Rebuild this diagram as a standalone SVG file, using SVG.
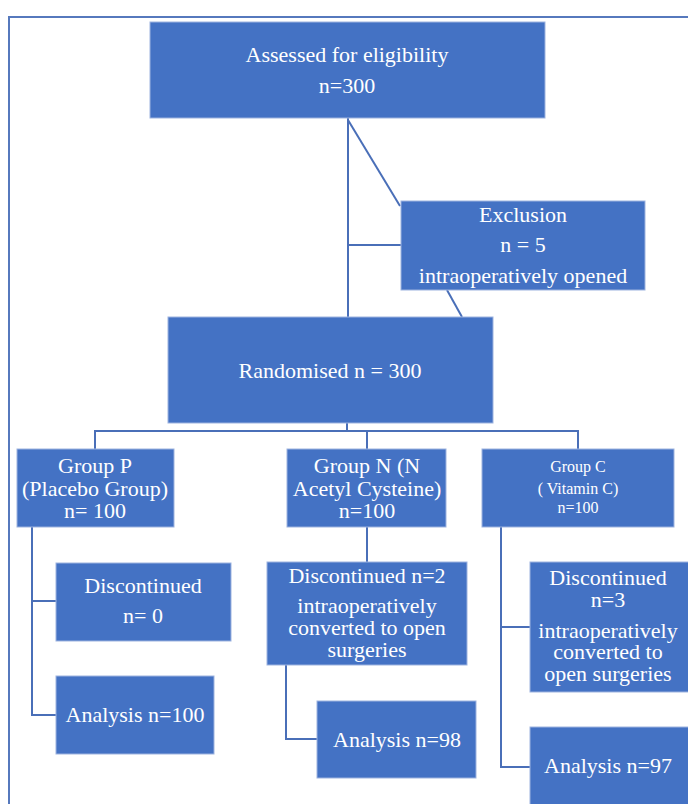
<svg xmlns="http://www.w3.org/2000/svg" width="688" height="804" viewBox="0 0 688 804">
<style>
.box{fill:#4472C4;stroke:#9db3df;stroke-width:1}
.t{font-family:"Liberation Serif","Times New Roman",serif;font-size:22px;fill:#ffffff;text-anchor:middle}
.s{font-size:16px}
.c{fill:none;stroke:#4a6fb8;stroke-width:2}
.frame{fill:none;stroke:#5679bd;stroke-width:2}
</style>
<rect width="688" height="804" fill="#ffffff"/>
<path class="frame" d="M9,804 V17 H688"/>
<g id="connectors">
<path class="c" d="M348,118 V317"/>
<path class="c" d="M348,120 L400,206"/>
<path class="c" d="M348,245 H401"/>
<path class="c" d="M447,290 L462,317"/>
<path class="c" d="M347,423 V431 M95,449 V431 H578 V449 M367,431 V449"/>
<path class="c" d="M32,527 V715 H56 M32,601 H56"/>
<path class="c" d="M367,527 V562"/>
<path class="c" d="M286,665 V739 H317"/>
<path class="c" d="M501,527 V767 H530 M501,627 H530"/>
</g>
<g id="assessed">
<rect class="box" x="150" y="22" width="395" height="96"/>
<text class="t" x="347" y="62">Assessed for eligibility</text>
<text class="t" x="347" y="93">n=300</text>
</g>
<g id="exclusion">
<rect class="box" x="401" y="201" width="244" height="89"/>
<text class="t" x="523" y="222">Exclusion</text>
<text class="t" x="523" y="252">n = 5</text>
<text class="t" x="523" y="283">intraoperatively opened</text>
</g>
<g id="randomised">
<rect class="box" x="168" y="317" width="325" height="106"/>
<text class="t" x="330" y="378">Randomised n = 300</text>
</g>
<g id="groupP">
<rect class="box" x="17" y="449" width="157" height="78"/>
<text class="t" x="95" y="473">Group P</text>
<text class="t" x="95" y="496">(Placebo Group)</text>
<text class="t" x="95" y="518">n= 100</text>
</g>
<g id="groupN">
<rect class="box" x="287" y="449" width="159" height="78"/>
<text class="t" x="367" y="473">Group N (N</text>
<text class="t" x="367" y="496">Acetyl Cysteine)</text>
<text class="t" x="367" y="518">n=100</text>
</g>
<g id="groupC">
<rect class="box" x="482" y="449" width="192" height="78"/>
<text class="t s" x="578" y="472">Group C</text>
<text class="t s" x="578" y="494">( Vitamin C)</text>
<text class="t s" x="578" y="513">n=100</text>
</g>
<g id="discP">
<rect class="box" x="56" y="563" width="175" height="78"/>
<text class="t" x="143" y="593">Discontinued</text>
<text class="t" x="143" y="623">n= 0</text>
</g>
<g id="analysisP">
<rect class="box" x="56" y="676" width="158" height="78"/>
<text class="t" x="135" y="722">Analysis n=100</text>
</g>
<g id="discN">
<rect class="box" x="267" y="562" width="200" height="103"/>
<text class="t" x="367" y="583">Discontinued n=2</text>
<text class="t" x="367" y="613">intraoperatively</text>
<text class="t" x="367" y="635">converted to open</text>
<text class="t" x="367" y="657">surgeries</text>
</g>
<g id="analysisN">
<rect class="box" x="317" y="701" width="159" height="77"/>
<text class="t" x="397" y="747">Analysis n=98</text>
</g>
<g id="discC">
<rect class="box" x="530" y="562" width="160" height="130"/>
<text class="t" x="608" y="585">Discontinued</text>
<text class="t" x="608" y="607">n=3</text>
<text class="t" x="608" y="638">intraoperatively</text>
<text class="t" x="608" y="659">converted to</text>
<text class="t" x="608" y="681">open surgeries</text>
</g>
<g id="analysisC">
<rect class="box" x="530" y="727" width="160" height="80"/>
<text class="t" x="608" y="773">Analysis n=97</text>
</g>
</svg>
